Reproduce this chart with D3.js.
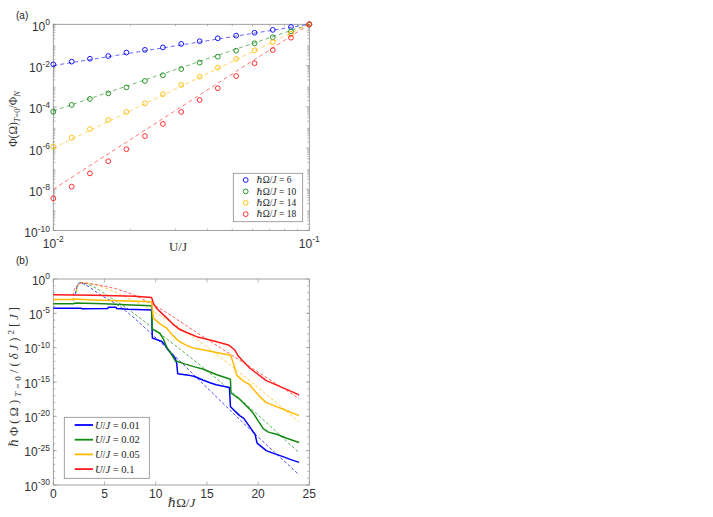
<!DOCTYPE html>
<html>
<head>
<meta charset="utf-8">
<script src="https://cdn.jsdelivr.net/npm/d3@7"></script>
<style>
  body { margin: 0; background: #fff; }
  svg { display: block; }
</style>
</head>
<body>
<svg id="chart" width="713" height="517"></svg>
<script>
// ---- panel (a): Phi(Omega)/Phi_N vs U/J, values are log10 ----
const uValues = [0.01, 0.0118, 0.0139, 0.0164, 0.0193, 0.0228, 0.0268, 0.0316, 0.0373, 0.0439, 0.0518, 0.0611, 0.072, 0.0848, 0.1];
const omegaLabels = ["6", "10", "14", "18"];
const phiOmega6 = [-1.94, -1.81, -1.67, -1.54, -1.37, -1.24, -1.12, -0.95, -0.82, -0.68, -0.55, -0.41, -0.27, -0.13, 0];
const phiOmega10 = [-4.24, -3.91, -3.62, -3.35, -3.06, -2.75, -2.47, -2.17, -1.86, -1.57, -1.28, -0.92, -0.63, -0.35, 0];
const phiOmega14 = [-5.93, -5.5, -5.08, -4.64, -4.25, -3.83, -3.39, -2.94, -2.54, -2.1, -1.68, -1.26, -0.87, -0.46, 0];
const phiOmega18 = [-8.44, -7.87, -7.23, -6.64, -6.06, -5.42, -4.83, -4.25, -3.67, -3.1, -2.51, -1.89, -1.25, -0.65, 0];
// power-law fits, log10 at U/J = 0.01 and at U/J = 0.1
const fitLow = [-2.0, -4.2, -6.0, -8.0];
const fitHigh = [0, 0, 0, 0];
const aTickExp = [0, -2, -4, -6, -8, -10];

// ---- panel (b): spectra vs hbar*Omega/J, pairs [Omega, log10] ----
const uLabels = ["0.01", "0.02", "0.05", "0.1"];
const specU001 = [[0, -4.25], [2.7, -4.25], [2.8, -4.35], [5.3, -4.3], [5.4, -4.1], [6.1, -4.1], [6.2, -4.3], [7.3, -4.4], [9.6, -4.5], [9.67, -8.6], [10.6, -9.1], [10.9, -9.6], [11.2, -10.3], [11.9, -11.5], [12.05, -12.3], [12.15, -13.8], [13.2, -14.0], [13.8, -14.2], [14.6, -14.7], [15.3, -15.1], [15.9, -15.4], [17.2, -15.8], [17.3, -18.6], [18.2, -19.9], [18.6, -20.3], [19.5, -22.2], [19.7, -22.6], [19.9, -23.9], [20.8, -25.0], [21.5, -25.4], [22.5, -25.9], [23.2, -26.3], [24, -26.7]];
const specU002 = [[0, -3.6], [2.0, -3.6], [2.1, -3.5], [5, -3.6], [7, -3.75], [9.6, -3.9], [9.67, -7.3], [10.4, -7.9], [10.7, -8.6], [11.1, -10.0], [11.4, -10.6], [11.9, -11.9], [12.9, -12.4], [13.8, -12.8], [14.6, -13.1], [15.9, -13.9], [17.3, -14.6], [17.35, -16.6], [18.2, -17.5], [18.6, -18.1], [19.2, -19.0], [19.5, -19.5], [20.5, -21.8], [21.0, -22.3], [21.8, -22.6], [22.8, -23.2], [24, -23.8]];
const specU005 = [[0, -3.0], [1.95, -3.0], [2.0, -2.9], [4, -3.05], [9.6, -3.3], [9.77, -5.7], [10.4, -6.5], [11.1, -7.2], [11.6, -8.1], [12.2, -9.0], [13.2, -9.8], [13.8, -10.1], [14.6, -10.3], [16.3, -10.8], [17.3, -11.1], [17.6, -12.3], [17.9, -14.0], [18.6, -14.9], [19.2, -15.4], [19.5, -16.0], [20.2, -17.2], [20.8, -18.0], [21.5, -18.4], [22.5, -19.0], [24, -19.9]];
const specU01 = [[0, -2.3], [4, -2.35], [8, -2.5], [9.6, -2.7], [9.77, -3.5], [10.1, -4.3], [10.6, -5.0], [11.1, -5.7], [11.7, -6.6], [12.4, -7.4], [13.2, -7.9], [14.0, -8.4], [15.6, -9.0], [17.1, -9.6], [17.7, -10.3], [18.1, -11.3], [19.2, -13.0], [20.8, -14.8], [22.5, -15.9], [23.9, -16.8], [24, -16.9]];
// analytic estimates (dashed)
const estU001 = [[2.15, -2.2], [2.35, -0.9], [2.6, -0.55], [3.0, -0.75], [4.5, -2.2], [6.4, -3.9], [9.6, -8.0], [14.3, -14.8], [19, -21.6], [24, -28.5]];
const estU002 = [[2.2, -2.0], [2.4, -0.9], [2.7, -0.55], [3.2, -0.7], [5.7, -2.8], [11.4, -9.1], [16, -14.6], [20.5, -20.5], [24, -25.3]];
const estU005 = [[2.3, -1.8], [2.5, -0.8], [2.8, -0.5], [3.4, -0.6], [7.3, -2.8], [13.8, -8.6], [19, -14.6], [24, -20.8]];
const estU01 = [[1.95, -3.2], [2.0, -1.8], [2.3, -1.0], [2.8, -0.55], [3.6, -0.7], [7.3, -2.0], [10.4, -4.3], [13.8, -7.6], [19, -12.6], [24, -17.4]];
const bTickExp = [0, -5, -10, -15, -20, -25, -30];
const bTickX = [0, 5, 10, 15, 20, 25];

const colors = ["#0000ff", "#138a13", "#ffbb00", "#ff1a1a"];
const axisColor = "#8a8a8a";
const labelColor = "#333";
const sans = "Liberation Sans, Arial, sans-serif";
const serif = "Liberation Serif, DejaVu Serif, serif";

let svg = d3.select("#chart");

// draws box + inward ticks on all four sides
function drawFrame(g, x, y, xMajor, xMinor, yMajor, yMinor) {
  let [x0, x1] = x.range(), [y0, y1] = y.range();
  let tick = (x1a, y1a, x2a, y2a) =>
    g.append("line").attr("x1", x1a).attr("y1", y1a).attr("x2", x2a).attr("y2", y2a)
      .attr("stroke", axisColor).attr("stroke-width", 0.6);
  xMajor.forEach((v) => { tick(x(v), y0, x(v), y0 - 3.5); tick(x(v), y1, x(v), y1 + 3.5); });
  xMinor.forEach((v) => { tick(x(v), y0, x(v), y0 - 2); tick(x(v), y1, x(v), y1 + 2); });
  yMajor.forEach((v) => { tick(x0, y(v), x0 + 3.5, y(v)); tick(x1, y(v), x1 - 3.5, y(v)); });
  yMinor.forEach((v) => { tick(x0, y(v), x0 + 2, y(v)); tick(x1, y(v), x1 - 2, y(v)); });
  g.append("rect").attr("x", x0).attr("y", y1).attr("width", x1 - x0).attr("height", y0 - y1)
    .attr("fill", "none").attr("stroke", axisColor).attr("stroke-width", 0.8);
}

function powLabel(g, px, py, exp, anchor) {
  let t = g.append("text").attr("x", px).attr("y", py).attr("text-anchor", anchor)
    .attr("font-family", sans).attr("font-size", 12).attr("fill", labelColor);
  t.append("tspan").text("10");
  t.append("tspan").attr("dy", -5.5).attr("font-size", 8.5).text(exp);
}

// ================= panel (a) =================
let xa = d3.scaleLog().domain([0.01, 0.1]).range([53.3, 309.3]),
  ya = d3.scaleLog().domain([1e-10, 1]).range([230.5, 24.3]),
  ga = svg.append("g");

let aMinorY = [];
for (let e = -10; e < 0; e++) for (let k = 2; k <= 9; k++) aMinorY.push(k * Math.pow(10, e));
let aMinorX = d3.range(2, 10).map((k) => k * 0.01);
drawFrame(ga, xa, ya, [0.01, 0.1], aMinorX, aTickExp.map((e) => Math.pow(10, e)), aMinorY);

aTickExp.forEach((e) => powLabel(ga, 50, ya(Math.pow(10, e)) + 6.5, String(e), "end"));
powLabel(ga, xa(0.01), 247.5, "-2", "middle");
powLabel(ga, xa(0.1), 247.5, "-1", "middle");

let phiSeries = [phiOmega6, phiOmega10, phiOmega14, phiOmega18];
phiSeries.forEach((s, i) => {
  ga.append("line")
    .attr("x1", xa(0.01)).attr("y1", ya(Math.pow(10, fitLow[i])))
    .attr("x2", xa(0.1)).attr("y2", ya(Math.pow(10, fitHigh[i])))
    .attr("stroke", colors[i]).attr("stroke-opacity", 0.75)
    .attr("stroke-width", 0.8).attr("stroke-dasharray", "4,3");
  ga.selectAll(".pt" + i)
    .data(s)
    .enter()
    .append("circle")
    .attr("cx", (d, j) => xa(uValues[j]))
    .attr("cy", (d) => ya(Math.pow(10, d)))
    .attr("r", 2.4)
    .attr("fill", "none")
    .attr("stroke", colors[i])
    .attr("stroke-width", 0.9);
});

// legend (a)
ga.append("rect").attr("x", 233.3).attr("y", 173.3).attr("width", 69.4).attr("height", 48.4)
  .attr("fill", "#fff").attr("stroke", axisColor).attr("stroke-width", 0.8);
omegaLabels.forEach((lab, i) => {
  let cy = 180 + i * 11.4;
  ga.append("circle").attr("cx", 245.7).attr("cy", cy).attr("r", 2.4)
    .attr("fill", "none").attr("stroke", colors[i]).attr("stroke-width", 0.9);
  let t = ga.append("text").attr("x", 256.5).attr("y", cy + 3.2)
    .attr("font-family", serif).attr("font-size", 9.5).attr("fill", "#222");
  t.append("tspan").attr("font-style", "italic").text("ℏ");
  t.append("tspan").text("Ω/");
  t.append("tspan").attr("font-style", "italic").text("J");
  t.append("tspan").text(" = " + lab);
});

// labels (a)
ga.append("text").attr("x", 16).attr("y", 19).attr("font-family", sans).attr("font-size", 10)
  .attr("fill", "#222").text("(a)");
ga.append("text").attr("x", 178).attr("y", 251).attr("text-anchor", "middle")
  .attr("font-family", serif).attr("font-size", 13).attr("fill", "#333").text("U/J");
let yla = ga.append("text").attr("transform", "translate(17,119) rotate(-90)")
  .attr("text-anchor", "middle").attr("font-family", serif).attr("font-size", 11.5)
  .attr("fill", "#333");
yla.append("tspan").text("Φ(Ω)");
yla.append("tspan").attr("dy", 3).attr("font-size", 8.5).attr("font-style", "italic").text("T");
yla.append("tspan").attr("font-size", 8.5).text("=0");
yla.append("tspan").attr("dy", -3).text("/Φ");
yla.append("tspan").attr("dy", 3).attr("font-size", 8.5).attr("font-style", "italic").text("N");

// ================= panel (b) =================
let xb = d3.scaleLinear().domain([0, 25]).range([53.3, 309.3]),
  yb = d3.scaleLog().domain([1e-30, 1]).range([485, 279]),
  gb = svg.append("g");

let bMinorY = d3.range(-29, 0).map((e) => Math.pow(10, e));
drawFrame(gb, xb, yb, bTickX, [], bTickExp.map((e) => Math.pow(10, e)), bMinorY);

bTickExp.forEach((e) => powLabel(gb, 50, yb(Math.pow(10, e)) + 5.5, String(e), "end"));
bTickX.forEach((v) =>
  gb.append("text").attr("x", xb(v)).attr("y", 498).attr("text-anchor", "middle")
    .attr("font-family", sans).attr("font-size", 12).attr("fill", labelColor).text(v)
);

let line = d3.line().x((d) => xb(d[0])).y((d) => yb(Math.pow(10, d[1])));
let smooth = d3.line().curve(d3.curveMonotoneX).x((d) => xb(d[0])).y((d) => yb(Math.pow(10, d[1])));

[estU001, estU002, estU005, estU01].forEach((s, i) =>
  gb.append("path").attr("d", smooth(s)).attr("fill", "none")
    .attr("stroke", colors[i]).attr("stroke-opacity", 0.7)
    .attr("stroke-width", 1).attr("stroke-dasharray", "3,2")
);
[specU001, specU002, specU005, specU01].forEach((s, i) =>
  gb.append("path").attr("d", line(s)).attr("fill", "none")
    .attr("stroke", colors[i]).attr("stroke-width", 1.5)
    .attr("stroke-linejoin", "round")
);

// legend (b)
gb.append("rect").attr("x", 64.3).attr("y", 417.3).attr("width", 85).attr("height", 61)
  .attr("fill", "#fff").attr("stroke", axisColor).attr("stroke-width", 0.8);
uLabels.forEach((lab, i) => {
  let cy = 425 + i * 14.7;
  gb.append("line").attr("x1", 74.7).attr("x2", 93).attr("y1", cy).attr("y2", cy)
    .attr("stroke", colors[i]).attr("stroke-width", 1.8);
  let t = gb.append("text").attr("x", 95).attr("y", cy + 3.5)
    .attr("font-family", serif).attr("font-size", 10.5).attr("fill", "#222");
  t.append("tspan").attr("font-style", "italic").text("U");
  t.append("tspan").text("/");
  t.append("tspan").attr("font-style", "italic").text("J");
  t.append("tspan").text(" = " + lab);
});

// labels (b)
gb.append("text").attr("x", 16).attr("y", 264).attr("font-family", sans).attr("font-size", 10)
  .attr("fill", "#222").text("(b)");
let xlb = gb.append("text").attr("x", 181.5).attr("y", 507).attr("text-anchor", "middle")
  .attr("font-family", serif).attr("font-size", 13).attr("fill", "#333");
xlb.append("tspan").attr("font-style", "italic").text("ℏ");
xlb.append("tspan").text("Ω/");
xlb.append("tspan").attr("font-style", "italic").text("J");
let ylb = gb.append("text").attr("transform", "translate(18,377) rotate(-90)")
  .attr("text-anchor", "middle").attr("font-family", serif).attr("font-size", 12.5)
  .attr("fill", "#333").attr("textLength", 140).attr("lengthAdjust", "spacing");
ylb.append("tspan").attr("font-style", "italic").text("ℏ");
ylb.append("tspan").text("Φ(Ω)");
ylb.append("tspan").attr("dy", 3).attr("font-size", 9).attr("font-style", "italic").text("T");
ylb.append("tspan").attr("font-size", 9).text("=0");
ylb.append("tspan").attr("dy", -3).text("/(");
ylb.append("tspan").attr("font-style", "italic").text("δJ");
ylb.append("tspan").text(")");
ylb.append("tspan").attr("dy", -4.5).attr("font-size", 9).text("2");
ylb.append("tspan").attr("dy", 4.5).text("[");
ylb.append("tspan").attr("font-style", "italic").text("J");
ylb.append("tspan").text("]");
</script>
</body>
</html>
